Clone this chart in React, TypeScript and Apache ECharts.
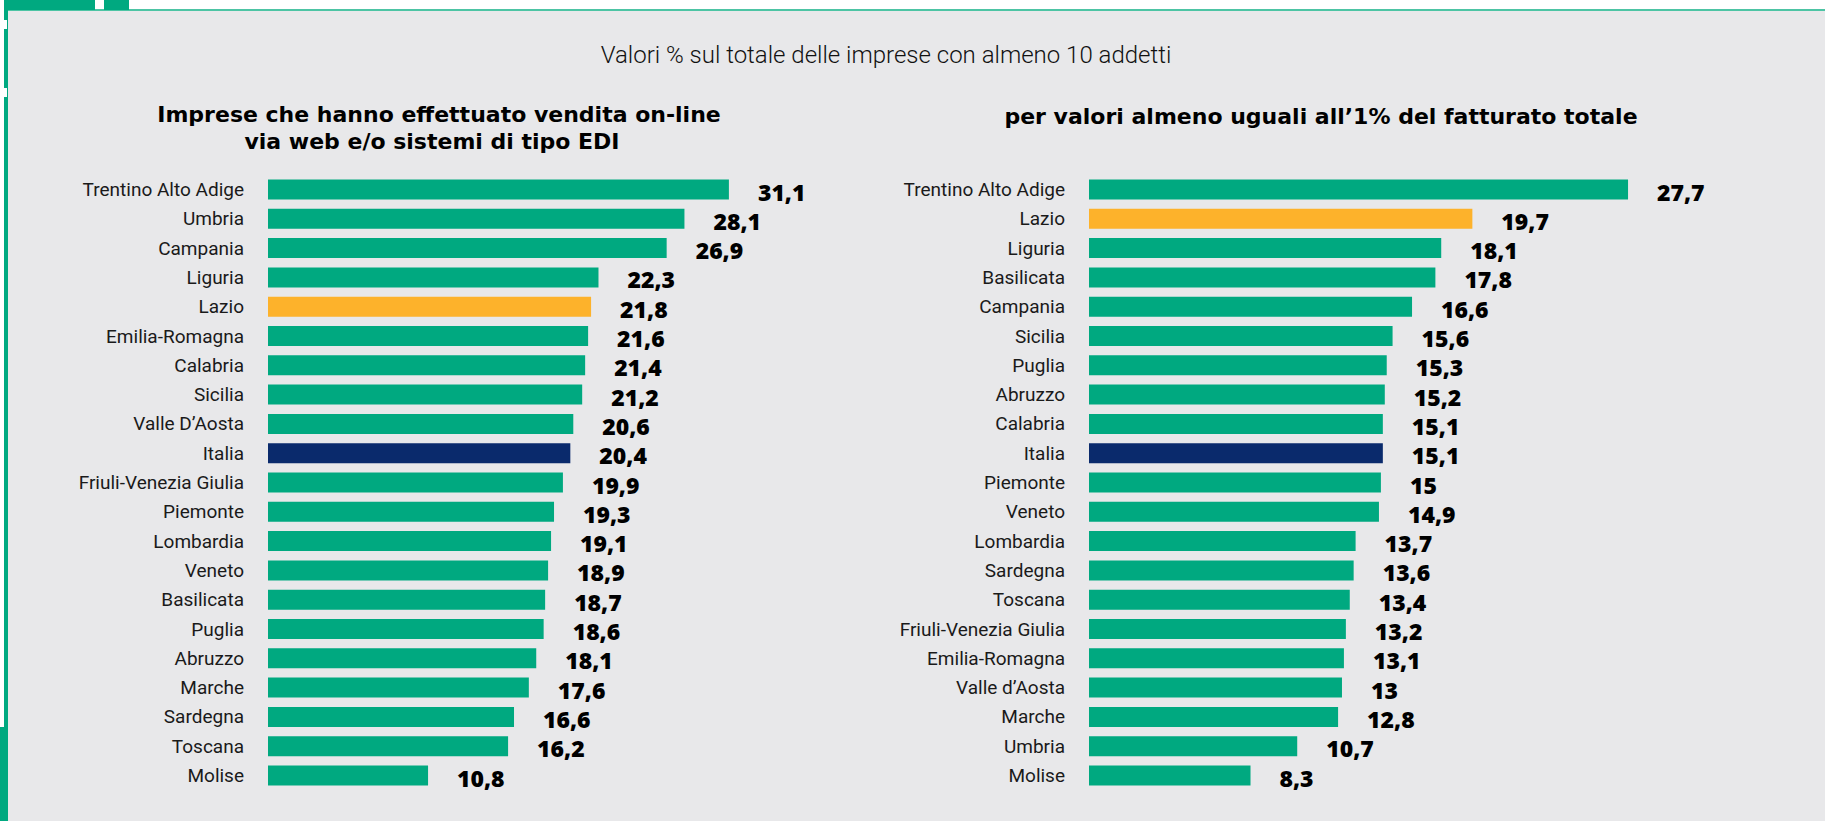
import React, { useEffect, useRef } from "react";
import * as echarts from "echarts";

const leftCategories = [
  "Trentino Alto Adige", "Umbria", "Campania", "Liguria", "Lazio", "Emilia-Romagna", "Calabria",
  "Sicilia", "Valle D’Aosta", "Italia", "Friuli-Venezia Giulia", "Piemonte", "Lombardia", "Veneto",
  "Basilicata", "Puglia", "Abruzzo", "Marche", "Sardegna", "Toscana", "Molise",
];
const leftValues = [31.1, 28.1, 26.9, 22.3, 21.8, 21.6, 21.4, 21.2, 20.6, 20.4, 19.9, 19.3, 19.1, 18.9, 18.7, 18.6, 18.1, 17.6, 16.6, 16.2, 10.8];

const rightCategories = [
  "Trentino Alto Adige", "Lazio", "Liguria", "Basilicata", "Campania", "Sicilia", "Puglia", "Abruzzo",
  "Calabria", "Italia", "Piemonte", "Veneto", "Lombardia", "Sardegna", "Toscana", "Friuli-Venezia Giulia",
  "Emilia-Romagna", "Valle d’Aosta", "Marche", "Umbria", "Molise",
];
const rightValues = [27.7, 19.7, 18.1, 17.8, 16.6, 15.6, 15.3, 15.2, 15.1, 15.1, 15, 14.9, 13.7, 13.6, 13.4, 13.2, 13.1, 13, 12.8, 10.7, 8.3];

const subtitle = "Valori % sul totale delle imprese con almeno 10 addetti";
const leftTitleLines = ["Imprese che hanno effettuato vendita on-line", "via web e/o sistemi di tipo EDI"];
const rightTitle = "per valori almeno uguali all’1% del fatturato totale";

const GREEN = "#00A980";
const ORANGE = "#FDB22B";
const NAVY = "#0A2A6C";
const BG = "#E8E8EA";

const LABEL_FONT = "'Liberation Sans Narrow', Roboto, sans-serif";
const VALUE_FONT = "'Open Sans', 'Noto Sans', sans-serif";
const TITLE_FONT = "'DejaVu Sans', 'Open Sans', sans-serif";

function barColor(name: string) {
  if (name === "Lazio") return ORANGE;
  if (name === "Italia") return NAVY;
  return GREEN;
}

function makeData(cats: string[], vals: number[]) {
  return vals.map((v, i) => ({ value: v, name: cats[i], itemStyle: { color: barColor(cats[i]) } }));
}

export default function App() {
  const ref = useRef<HTMLDivElement>(null);
  useEffect(() => {
    document.body.style.margin = "0";
    const chart = echarts.init(ref.current!, null, { renderer: "svg" });
    const rowH = 29.3;
    const top = 174.85;
    const height = rowH * 21;
    const leftScale = 14.82;
    const rightScale = 19.46;
    const leftMax = 35;
    const rightMax = 30;
    const valueLabel = {
      show: true,
      position: "right",
      distance: 29,
      offset: [0, 2],
      fontFamily: VALUE_FONT,
      fontWeight: 800,
      fontSize: 23,
      color: "#000",
      formatter: (p: any) => String(p.value).replace(".", ","),
    };
    const catAxisLabel = {
      fontFamily: LABEL_FONT,
      fontSize: 19,
      color: "#1a1a1a",
      margin: 24,
    };
    const titleStyle = {
      textAlign: "center",
      textVerticalAlign: "middle",
      fontFamily: TITLE_FONT,
      fontWeight: "bold",
      fontSize: 22,
      fill: "#000",
    };
    chart.setOption({
      animation: false,
      backgroundColor: "#ffffff",
      graphic: [
        { type: "rect", shape: { x: 8, y: 9, width: 1817, height: 812 }, style: { fill: "#4DC4A4" }, z: -10 },
        { type: "rect", shape: { x: 8, y: 11, width: 1817, height: 810 }, style: { fill: BG }, z: -9 },
        { type: "rect", shape: { x: 4, y: 0, width: 91, height: 10 }, style: { fill: GREEN }, z: -8 },
        { type: "rect", shape: { x: 104, y: 0, width: 25, height: 10 }, style: { fill: GREEN }, z: -8 },
        { type: "rect", shape: { x: 4, y: 0, width: 4, height: 821 }, style: { fill: GREEN }, z: -8 },
        { type: "rect", shape: { x: 4, y: 20, width: 3, height: 9 }, style: { fill: "#ffffff" }, z: -7 },
        { type: "rect", shape: { x: 4, y: 88, width: 3, height: 9 }, style: { fill: "#ffffff" }, z: -7 },
        { type: "rect", shape: { x: 0, y: 727, width: 8, height: 94 }, style: { fill: GREEN }, z: -7 },
        {
          type: "text",
          x: 886,
          y: 55,
          style: {
            text: subtitle,
            textAlign: "center",
            textVerticalAlign: "middle",
            fontFamily: "Roboto, sans-serif",
            fontWeight: 300,
            fontSize: 24,
            fill: "#111",
          },
        },
        { type: "text", x: 439, y: 114, style: { ...titleStyle, text: leftTitleLines[0] } },
        { type: "text", x: 432, y: 141, style: { ...titleStyle, text: leftTitleLines[1] } },
        { type: "text", x: 1321, y: 116, style: { ...titleStyle, text: rightTitle } },
      ],
      grid: [
        { left: 268, top, width: leftMax * leftScale, height },
        { left: 1089, top, width: rightMax * rightScale, height },
      ],
      xAxis: [
        { type: "value", gridIndex: 0, min: 0, max: leftMax, show: false },
        { type: "value", gridIndex: 1, min: 0, max: rightMax, show: false },
      ],
      yAxis: [
        {
          type: "category",
          gridIndex: 0,
          data: leftCategories,
          inverse: true,
          axisLine: { show: false },
          axisTick: { show: false },
          axisLabel: catAxisLabel,
        },
        {
          type: "category",
          gridIndex: 1,
          data: rightCategories,
          inverse: true,
          axisLine: { show: false },
          axisTick: { show: false },
          axisLabel: catAxisLabel,
        },
      ],
      series: [
        {
          type: "bar",
          xAxisIndex: 0,
          yAxisIndex: 0,
          barWidth: 20,
          data: makeData(leftCategories, leftValues),
          label: valueLabel,
        },
        {
          type: "bar",
          xAxisIndex: 1,
          yAxisIndex: 1,
          barWidth: 20,
          data: makeData(rightCategories, rightValues),
          label: valueLabel,
        },
      ],
    });
    return () => chart.dispose();
  }, []);
  return <div ref={ref} style={{ position: "absolute", left: 0, top: 0, width: 1825, height: 821 }} />;
}
